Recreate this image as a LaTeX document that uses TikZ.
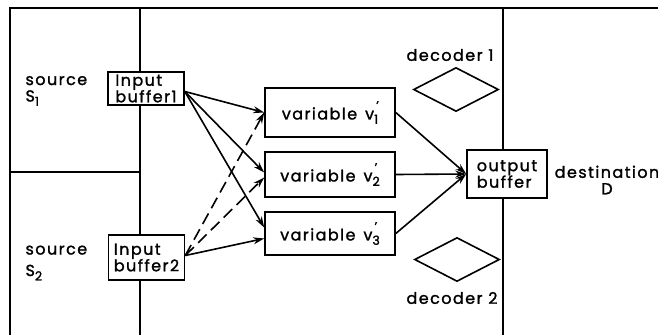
\documentclass[tikz,border=0pt]{standalone}
\usepackage{fontspec}
\setmainfont{Poppins}[LetterSpace=9,FakeBold=1.4]
\usetikzlibrary{arrows.meta,shapes.geometric}

\newcommand\subsize{\fontsize{12.5}{13}\selectfont}
\newcommand\vsub[1]{v\rlap{\raisebox{1.1ex}{\subsize\,'}}\raisebox{-0.5ex}{\subsize #1}}
\newcommand\ssub[1]{S\raisebox{-0.5ex}{\subsize #1}}

\tikzset{
  frame/.style={line width=1.6pt},
  box/.style={draw,fill=white,line width=1.6pt,inner sep=1pt,align=left},
  varbox/.style={draw,fill=white,line width=1.6pt,minimum width=130pt},
  dec/.style={draw,diamond,line width=1.6pt,minimum width=85pt,minimum height=44pt,inner sep=0pt},
  arr/.style={line width=1.6pt,-{Stealth[length=11pt,width=7pt]}},
  longdash/.style={dash pattern=on 12pt off 6pt},
}

\begin{document}
\begin{tikzpicture}[x=1pt,y=-1pt,font=\fontsize{16}{16.5}\selectfont]
	\useasboundingbox (0,0) rectangle (658,335);
	% frame of the source / channel / destination areas
	\draw[frame] (658,8) -- (10,8) -- (10,335);
	\draw[frame] (140,8) -- (140,335);
	\draw[frame] (10,172) -- (140,172);
	\draw[frame] (503,8) -- (503,335);

	\node[anchor=west,align=left] (src1) at (22,91) {source\\\ssub{1}};
	\node[anchor=west,align=left] (src2) at (22,263) {source\\[5pt]\ssub{2}};

	\node[box,minimum width=76pt,minimum height=33pt] (inbufa) at (146,88.5) {Input\\buffer1};
	\node[box,minimum width=76pt,minimum height=45pt] (inbufb) at (146.5,257.5) {Input\\buffer2};

	\node[varbox,minimum height=49pt] (var1) at (330,112.5) {variable\enspace\vsub{1}};
	\node[varbox,minimum height=45pt] (var2) at (330,174.5) {variable\enspace\vsub{2}};
	\node[varbox,minimum height=43pt] (var3) at (330,233.5) {variable\enspace\vsub{3}};

	\node[box,minimum width=80pt,minimum height=48pt] (outbuf) at (507,174) {output\\buffer};
	\node[align=center] (dest) at (607,180) {destination\\D};

	\node[dec] (dec1) at (456,89.5) {};
	\node (dec1lbl) at (450,55) {decoder 1};
	\node[dec] (dec2) at (457,259.5) {};
	\node (dec2lbl) at (452,298) {decoder 2};

	% input buffers to the variables
	\foreach \i/\s in {1/0,2/2,3/6}
		\draw[arr] ([yshift=-3pt]inbufa.east) -- ([yshift=\s pt]var\i.west);
	\foreach \i/\s in {1/0,2/-3}
		\draw[arr,longdash] ([yshift=2pt]inbufb.east) -- ([yshift=\s pt]var\i.west);
	\draw[arr] ([yshift=2pt]inbufb.east) -- ([yshift=-5pt]var3.west);

	% variables to the output buffer
	\foreach \i in {1,2,3}
		\draw[arr] (var\i.east) -- (outbuf.west);
\end{tikzpicture}
\end{document}
